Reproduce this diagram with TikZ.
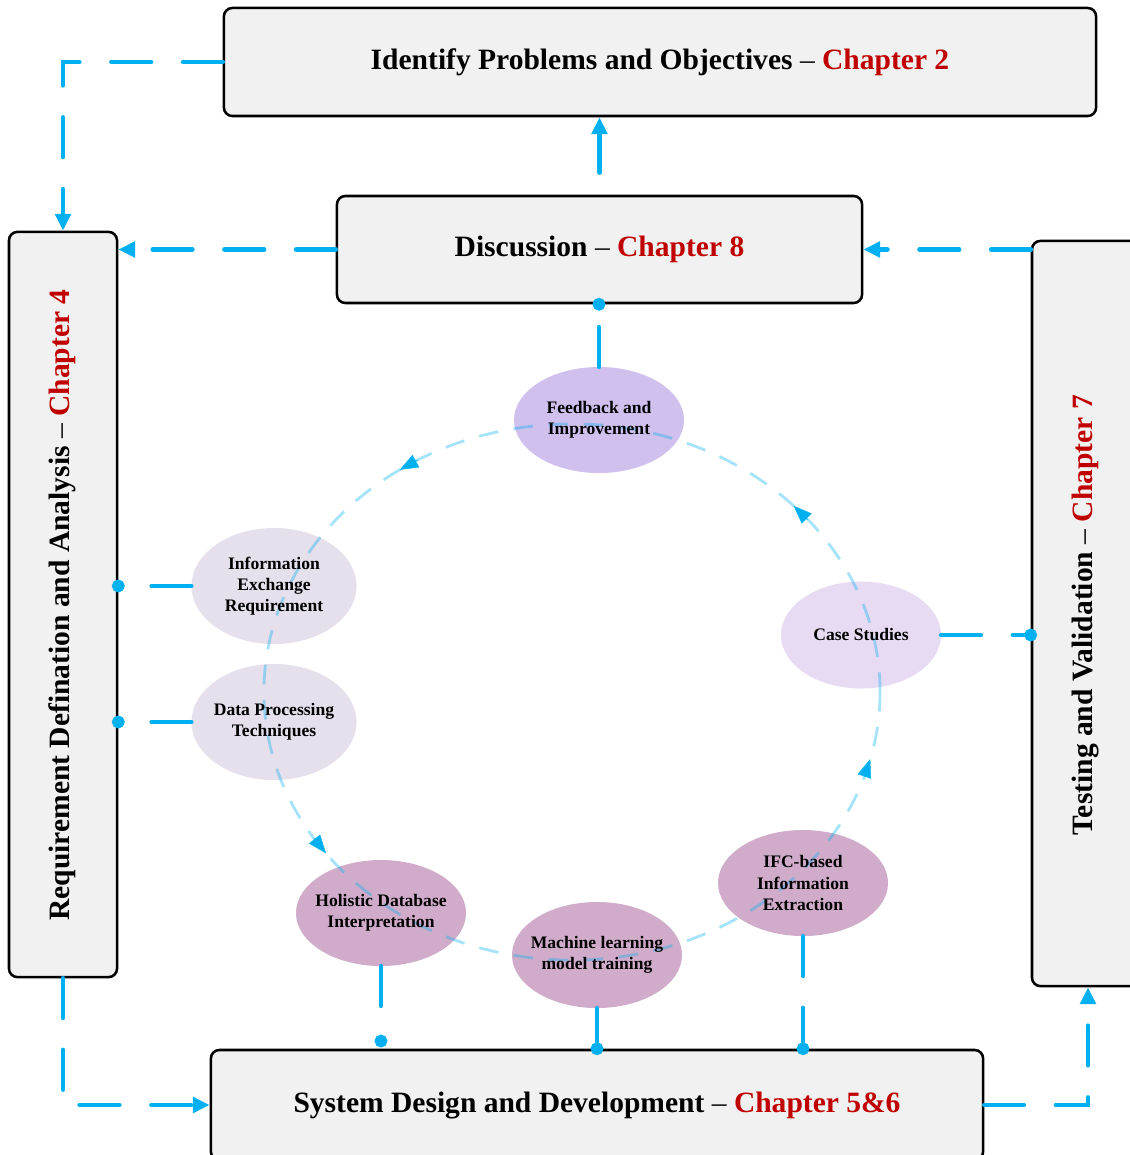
\documentclass[tikz,border=0pt]{standalone}
\usepackage{fontspec}
\setmainfont{Liberation Serif}
\usetikzlibrary{arrows.meta,shapes.geometric}
\definecolor{flowblue}{RGB}{0,176,240}
\definecolor{chapred}{RGB}{192,0,0}
\definecolor{boxgray}{RGB}{241,241,241}
\definecolor{lilac}{RGB}{207,192,238}
\definecolor{paleviolet}{RGB}{231,219,243}
\definecolor{mist}{RGB}{230,223,236}
\definecolor{mauve}{RGB}{208,172,202}
\newcommand{\chap}[1]{{\mdseries--}\ \textcolor{chapred}{#1}}
\begin{document}
\begin{tikzpicture}[x=0.025cm,y=-0.025cm,
  box/.style={draw=black, line width=1.8pt, fill=boxgray, rounded corners=6pt, inner sep=0pt},
  title/.style={font=\fontsize{21}{25}\selectfont\bfseries},
  blob/.style={ellipse, inner sep=0pt, draw=none},
  blobtext/.style={font=\fontsize{12.5}{15}\selectfont\bfseries, align=center},
  flow/.style={draw=flowblue, line width=3.5pt, line cap=round, dash pattern=on 28pt off 23pt},
  arrowend/.style={-{Triangle[length=12pt,width=11pt]}},
  arrowstart/.style={{Triangle[length=12pt,width=11pt]}-},
  dotend/.style={-{Circle[length=9pt]}, shorten >=-4.5pt},
  ring/.style={draw=flowblue, draw opacity=0.35, line width=2pt, dash pattern=on 14pt off 11pt},
  ringtip/.style={flowblue, line width=0.3pt, -{Triangle[length=13pt,width=10pt]}}]
\useasboundingbox (0,0) rectangle (1129,1155);

% chapter boxes
\node[box, title, minimum width=21.8cm, minimum height=2.7cm] (goal) at (660,62)
  {Identify Problems and Objectives \chap{Chapter 2}};
\node[box, title, minimum width=13.125cm, minimum height=2.675cm] (disc) at (599.5,249.5)
  {Discussion \chap{Chapter 8}};
\node[box, minimum width=2.7cm, minimum height=18.625cm] (req) at (63,604.5) {};
\node[title, rotate=90] (reqtext) at (62,605)
  {Requirement Defination and Analysis \chap{Chapter 4}};
\node[box, minimum width=2.8cm, minimum height=18.625cm] (test) at (1088,613.5) {};
\node[title, rotate=90] (testtext) at (1085,615)
  {Testing and Validation \chap{Chapter 7}};
\node[box, title, minimum width=19.3cm, minimum height=2.75cm] (build) at (597,1105)
  {System Design and Development \chap{Chapter 5\&6}};

% activity ellipses
\node[blob, fill=lilac, minimum width=4.25cm, minimum height=2.65cm] (fb) at (599,420) {};
\node[blob, fill=mist, minimum width=4.125cm, minimum height=2.9cm] (iex) at (274,586) {};
\node[blob, fill=mist, minimum width=4.125cm, minimum height=2.9cm] (dpt) at (274,722) {};
\node[blob, fill=paleviolet, minimum width=4cm, minimum height=2.675cm] (cs) at (861,635) {};
\node[blob, fill=mauve, minimum width=4.25cm, minimum height=2.65cm] (hdi) at (381,913) {};
\node[blob, fill=mauve, minimum width=4.25cm, minimum height=2.65cm] (mlt) at (597,955) {};
\node[blob, fill=mauve, minimum width=4.25cm, minimum height=2.65cm] (ifc) at (803,883) {};

% iteration ring
\draw[ring] (572,692) ellipse [x radius=7.7cm, y radius=6.7cm];
\foreach \a in {236,316,14.5,143}
  \draw[ringtip] ({572+308*cos(\a+4)},{692+268*sin(\a+4)}) -- ({572+308*cos(\a)},{692+268*sin(\a)});

% ellipse labels
\node[blobtext] (fbt) at (fb) {Feedback and\\Improvement};
\node[blobtext] (iext) at (iex) {Information\\Exchange\\Requirement};
\node[blobtext] (dptt) at (dpt) {Data Processing\\Techniques};
\node[blobtext] (cst) at (cs) {Case Studies};
\node[blobtext] (hdit) at (hdi) {Holistic Database\\Interpretation};
\node[blobtext] (mltt) at (mlt) {Machine learning\\model training};
\node[blobtext] (ifct) at (ifc) {IFC-based\\Information\\Extraction};

% flow between chapters
\draw[flow, arrowend] (goal.west) -| (req.north);
\draw[flow, arrowend] (disc.west) -- (req.east |- disc.west);
\draw[flow, arrowstart] (disc.north |- goal.south) -- (disc.north);
\draw[flow, arrowend] (test.west |- disc.east) -- (disc.east);
\draw[flow, arrowend] (req.south) |- (build.west);
\draw[flow, arrowend] (build.east) -| (test.south);

% activities attached to chapters
\coordinate (hdiend) at (381,1041);
\draw[flow, dotend] (fb.north) -- (fb.north |- disc.south);
\draw[flow, dotend] (iex.west) -- (iex.west -| req.east);
\draw[flow, dotend] (dpt.west) -- (dpt.west -| req.east);
\draw[flow, dotend] (cs.east) -- (cs.east -| test.west);
\draw[flow, dotend] (hdi.south) -- (hdiend);
\draw[flow, dotend] (mlt.south) -- (mlt.south |- build.north);
\draw[flow, dotend] (ifc.south) -- (ifc.south |- build.north);
\end{tikzpicture}
\end{document}
